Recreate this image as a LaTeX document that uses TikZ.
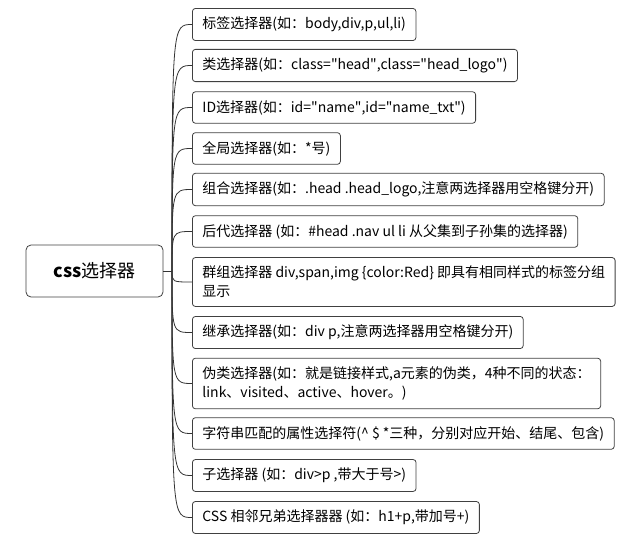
\documentclass[tikz,border=0pt]{standalone}
\usepackage{fontspec}
\setmainfont{Noto Sans CJK SC}
\newcommand{\dq}{\textquotedbl}

\begin{document}
\begin{tikzpicture}[x=1pt, y=-1pt, line join=round,
    leaf/.style={draw=black!75, line width=0.8pt, rounded corners=3pt, anchor=west,
      align=left, inner xsep=10pt, inner ysep=8.5pt, minimum height=31pt,
      font=\fontsize{14}{19}\selectfont},
    link/.style={draw=black!80, line width=0.8pt}]
  \useasboundingbox (0,0) rectangle (619,538);
  % the root and the point where its branches split
  \node[draw=black!75, line width=0.8pt, rounded corners=5pt, minimum width=137pt,
    minimum height=52pt, font=\fontsize{18}{22}\selectfont] (css) at (94.5,271) {\textbf{css}选择器};
  \coordinate (hub) at (172,271);
  \node[leaf] (tag) at (192,24.5) {标签选择器(如：body,div,p,ul,li)};
  \node[leaf] (cls) at (192,65.5) {类选择器(如：class=\dq head\dq,class=\dq head\_logo\dq)};
  \node[leaf] (id) at (192,107.5) {ID选择器(如：id=\dq name\dq,id=\dq name\_txt\dq)};
  \node[leaf] (all) at (192,148.5) {全局选择器(如：*号)};
  \node[leaf] (comb) at (192,189.5) {组合选择器(如：.head .head\_logo,注意两选择器用空格键分开)};
  \node[leaf] (desc) at (192,231.5) {后代选择器 (如：\#head .nav ul li 从父集到子孙集的选择器)};
  \node[leaf] (group) at (192,282) {群组选择器 div,span,img \{color:Red\} 即具有相同样式的标签分组\\显示};
  \node[leaf] (inh) at (192,332.5) {继承选择器(如：div p,注意两选择器用空格键分开)};
  \node[leaf] (pseudo) at (192,383.5) {伪类选择器(如：就是链接样式,a元素的伪类，4种不同的状态：\\link、visited、active、hover。)};
  \node[leaf] (attr) at (192,433.5) {字符串匹配的属性选择符(\textasciicircum\ \$ *三种，分别对应开始、结尾、包含)};
  \node[leaf] (child) at (192,475.5) {子选择器 (如：div>p ,带大于号>)};
  \node[leaf] (sib) at (192,517.5) {CSS 相邻兄弟选择器器 (如：h1+p,带加号+)};
  \draw[link] (css.east) -- (hub);
  \foreach \n in {tag,cls,id,all,comb,desc,group,inh,pseudo,attr,child,sib}
    \draw[link] (hub) .. controls (hub |- \n.west) .. (\n.west);
\end{tikzpicture}
\end{document}
